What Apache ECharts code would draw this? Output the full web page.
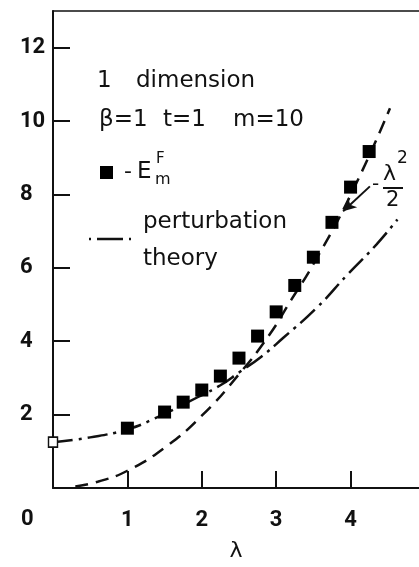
<!DOCTYPE html>
<html>
<head>
<meta charset="utf-8">
<script src="https://cdn.jsdelivr.net/npm/echarts@6/dist/echarts.min.js"></script>
<style>
html,body{margin:0;padding:0;background:#fff;}
#c{width:419px;height:567px;}
</style>
</head>
<body>
<div id="c"></div>
<script>
// data
var lambdaPoints = [1, 1.5, 1.75, 2, 2.25, 2.5, 2.75, 3, 3.25, 3.5, 3.75, 4, 4.25];
var energyPoints = [1.63, 2.07, 2.34, 2.67, 3.05, 3.54, 4.14, 4.8, 5.52, 6.29, 7.24, 8.2, 9.17];
var openPointX = [0];
var openPointY = [1.25];
var dashedX = [0.3, 0.6, 1, 1.5, 2, 2.5, 2.9, 3.2, 3.5, 4, 4.53];
var dashedY = [0.04, 0.17, 0.47, 1.1, 1.97, 3.1, 4.15, 5.12, 6.1, 7.98, 10.35];
var pertX = [0, 0.5, 1, 1.35, 1.95, 2.25, 2.5, 2.8, 3.1, 3.55, 3.96, 4.35, 4.63];
var pertY = [1.25, 1.38, 1.6, 1.88, 2.48, 2.8, 3.15, 3.58, 4.1, 4.92, 5.82, 6.64, 7.32];
var xTicks = [1, 2, 3, 4];
var yTicks = [2, 4, 6, 8, 10, 12];
var arrowFrom = [4.26, 8.22];
var arrowTo = [3.9, 7.54];

function zip(a, b) { return a.map(function (v, i) { return [v, b[i]]; }); }

var FONT = 'DejaVu Sans';
var NUMFONT = 'Roboto';
var INK = '#111';
var chart = echarts.init(document.getElementById('c'), null, {renderer: 'canvas'});

function T(x, y, s, size, fam, weight) {
  return {type: 'text', x: x, y: y, z: 100,
    style: {text: s, fontFamily: fam || FONT, fontWeight: weight || 'normal', fontSize: size, fill: INK, verticalAlign: 'middle', align: 'left'}};
}

chart.setOption({
  animation: false,
  backgroundColor: '#fff',
  grid: {left: 53, right: 0, top: 11, bottom: 78},
  xAxis: [{
    type: 'value', min: 0, max: 4.92,
    name: 'λ', nameLocation: 'middle', nameGap: 52,
    nameTextStyle: {fontFamily: FONT, fontSize: 22, color: INK},
    axisLine: {show: true, lineStyle: {color: INK, width: 2}},
    axisTick: {show: true, inside: true, length: 17, customValues: xTicks, lineStyle: {color: INK, width: 2}},
    axisLabel: {customValues: xTicks, margin: 21, fontFamily: NUMFONT, fontWeight: 'bold', fontSize: 22, color: INK},
    splitLine: {show: false}
  }, {
    type: 'value', min: 0, max: 4.92, position: 'top',
    axisLine: {show: true, lineStyle: {color: INK, width: 1.5}},
    axisTick: {show: false}, axisLabel: {show: false}, splitLine: {show: false}
  }],
  yAxis: {
    type: 'value', min: 0, max: 13,
    axisLine: {show: true, onZero: false, lineStyle: {color: INK, width: 2}},
    axisTick: {show: true, inside: true, length: 17, customValues: yTicks, lineStyle: {color: INK, width: 2}},
    axisLabel: {customValues: yTicks, margin: 33, align: 'left', fontFamily: NUMFONT, fontWeight: 'bold', fontSize: 22, color: INK},
    splitLine: {show: false}
  },
  series: [{
    type: 'line', smooth: true, showSymbol: false, data: zip(dashedX, dashedY),
    lineStyle: {color: INK, width: 2.5, type: [13, 8]},
    markLine: {
      silent: true, symbol: ['none', 'arrow'], symbolSize: [10, 13],
      label: {show: false},
      lineStyle: {color: INK, width: 2, type: 'solid'},
      data: [[{coord: arrowFrom}, {coord: arrowTo}]]
    }
  }, {
    type: 'line', smooth: true, showSymbol: false, data: zip(pertX, pertY),
    lineStyle: {color: INK, width: 2.5, type: [20, 6, 3, 6]}
  }, {
    type: 'scatter', symbol: 'rect', symbolSize: 13, data: zip(lambdaPoints, energyPoints),
    itemStyle: {color: '#000', opacity: 1}, z: 5
  }, {
    type: 'scatter', symbol: 'rect', symbolSize: [9, 10], clip: false, data: zip(openPointX, openPointY),
    itemStyle: {color: '#fff', borderColor: INK, borderWidth: 1.5, opacity: 1}, z: 6
  }],
  graphic: [
    T(21, 519, '0', 22, NUMFONT, 'bold'),
    T(97, 81, '1', 23),
    T(136, 81, 'dimension', 23),
    T(99, 120, 'β=1', 23),
    T(163, 120, 't=1', 23),
    T(233, 120, 'm=10', 23),
    {type: 'rect', shape: {x: 100, y: 166, width: 13, height: 13}, style: {fill: '#000'}, z: 100},
    T(124, 172, '-', 22),
    T(137, 172, 'E', 23),
    T(156, 159, 'F', 15),
    T(155, 180, 'm', 16),
    T(143, 222, 'perturbation', 23),
    {type: 'polyline', shape: {points: [[89, 239], [133, 239]]},
      style: {stroke: INK, lineWidth: 2.5, lineDash: [2, 6, 26, 6, 2, 6]}, z: 100},
    T(143, 259, 'theory', 23),
    T(372, 185, '-', 20),
    T(383, 174, 'λ', 22),
    T(397, 159, '2', 17),
    {type: 'line', shape: {x1: 383, y1: 188, x2: 403, y2: 188}, style: {stroke: INK, lineWidth: 2}, z: 100},
    T(386, 201, '2', 21)
  ]
});
</script>
</body>
</html>
